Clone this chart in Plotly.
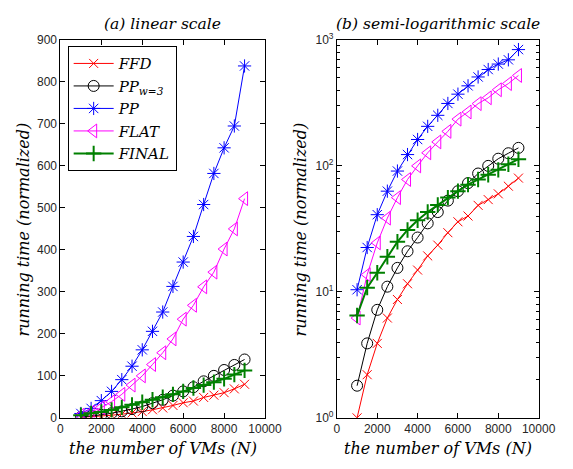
import plotly.graph_objects as go

# number of VMs
n_vms = [1000, 1500, 2000, 2500, 3000, 3500, 4000, 4500, 5000,
         5500, 6000, 6500, 7000, 7500, 8000, 8500, 9000]

# normalized running time of each algorithm
ffd = [1.0, 2.2, 3.9, 6.2, 8.7, 11.6, 14.9, 19.3, 23.5,
       29.5, 36, 40, 48.6, 54, 60, 69, 80]
pp_w3 = [1.8, 3.9, 7.2, 11, 15.5, 21, 27, 35, 43,
         53, 63, 73, 87, 100, 114, 126, 139]
pp = [10.4, 22.5, 41, 63, 91, 123, 162, 206, 252,
      313, 371, 432, 508, 582, 643, 695, 838]
flat = [6.2, 13.7, 24.5, 38.5, 56, 78, 100, 127, 155,
        188, 235, 268, 312, 347, 402, 450, 522]
final = [6.5, 10.8, 14.2, 19, 25, 31, 37, 43, 49,
         56, 63, 71, 78, 85, 93, 103, 113]

# tick labels of the semi-logarithmic axis
log_tick_vals = [1, 10, 100, 1000]
log_tick_text = ["10<sup>0</sup>", "10<sup>1</sup>", "10<sup>2</sup>", "10<sup>3</sup>"]

series = [
    ("FFD", ffd, "#ff0000", "x-thin-open", 9, 1),
    ("PP<sub>w=3</sub>", pp_w3, "#000000", "circle-open", 11, 1),
    ("PP", pp, "#0000ff", "asterisk-open", 11, 1),
    ("FLAT", flat, "#ff00ff", "triangle-left-open", 12, 1),
    ("FINAL", final, "#008000", "cross-thin-open", 11, 2),
]

W, H = 573, 469
serif = "DejaVu Serif"

fig = go.Figure()
for col, (xa, ya) in enumerate([("x", "y"), ("x2", "y2")]):
    for name, vals, color, sym, size, lw in series:
        fig.add_trace(go.Scatter(
            x=n_vms, y=vals, name=name, mode="lines+markers",
            xaxis=xa, yaxis=ya, showlegend=(col == 0),
            line=dict(color=color, width=lw),
            marker=dict(symbol=sym, size=size, color=color,
                        line=dict(color=color, width=lw)),
        ))

def px_x(p):
    return p / W

def px_y(p):
    return 1 - p / H

axis_common = dict(
    showline=True, linecolor="black", linewidth=1, mirror="ticks",
    ticks="inside", ticklen=5, tickcolor="black", showgrid=False,
    zeroline=False, tickfont=dict(family="Liberation Sans", size=12, color="#262626"),
)

fig.update_layout(
    width=W, height=H,
    margin=dict(l=0, r=0, t=0, b=0),
    paper_bgcolor="white", plot_bgcolor="white",
    xaxis=dict(domain=[px_x(59.5), px_x(271.5)], range=[0, 10000], dtick=2000,
               tickformat="d", anchor="y", **axis_common),
    yaxis=dict(domain=[px_y(423.3), px_y(32)], range=[0, 900], dtick=100,
               anchor="x", **axis_common),
    xaxis2=dict(domain=[px_x(346), px_x(555)], range=[0, 10000], dtick=2000,
                tickformat="d", anchor="y2", **axis_common),
    yaxis2=dict(domain=[px_y(423.3), px_y(32)], type="log", range=[0, 3],
                tickmode="array", tickvals=log_tick_vals, ticktext=log_tick_text,
                anchor="x2",
                minor=dict(ticks="inside", ticklen=3, tickcolor="black", dtick="D1",
                           showgrid=False),
                **axis_common),
    legend=dict(x=px_x(67), y=px_y(38.5), xanchor="left", yanchor="top",
                bgcolor="white", bordercolor="black", borderwidth=1,
                font=dict(family=serif, size=15, color="black", style="italic"),
                itemwidth=40, tracegroupgap=0),
    showlegend=True,
)

title_font = dict(family=serif, size=15.5, color="black", style="italic")
label_font = dict(family=serif, size=16, color="black", style="italic")

annotations = [
    dict(text="(a) linear scale", x=px_x(165.5), y=px_y(16), font=title_font),
    dict(text="(b) semi-logarithmic scale", x=px_x(450.5), y=px_y(16), font=title_font),
    dict(text="the number of VMs (N)", x=px_x(165.5), y=px_y(455), font=label_font),
    dict(text="the number of VMs (N)", x=px_x(450.5), y=px_y(455), font=label_font),
    dict(text="running time (normalized)", x=px_x(21), y=px_y(228), textangle=-90,
         font=label_font),
    dict(text="running time (normalized)", x=px_x(308), y=px_y(228), textangle=-90,
         font=label_font),
]
for a in annotations:
    a.update(xref="paper", yref="paper", showarrow=False,
             xanchor="center", yanchor="middle")
fig.update_layout(annotations=annotations)

fig.write_html("out.html")
